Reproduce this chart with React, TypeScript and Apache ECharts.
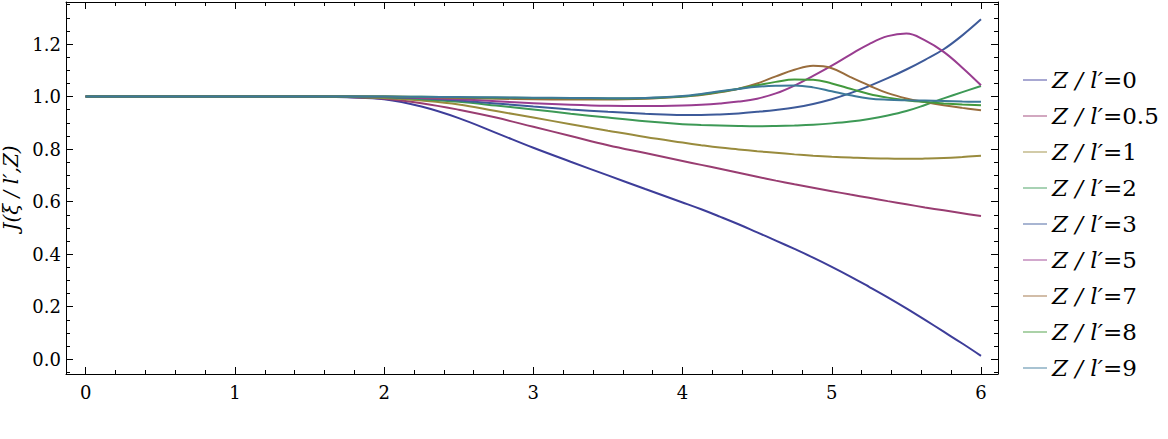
import React, { useEffect, useRef } from "react";
import * as echarts from "echarts";

// x = xi / l'
const xValues = [0, 0.5, 1, 1.5, 1.75, 2, 2.25, 2.5, 2.75, 3, 3.25, 3.5, 3.75,
  4, 4.125, 4.25, 4.375, 4.5, 4.625, 4.75, 4.875, 5, 5.125, 5.25, 5.375, 5.5, 5.625, 5.75, 5.875, 6];

const zLabels = ["0", "0.5", "1", "2", "3", "5", "7", "8", "9"];

const jZ0 = [1, 1, 1, 1, 0.997, 0.99, 0.962, 0.918, 0.862, 0.805, 0.752, 0.7, 0.648,
  0.597, 0.571, 0.543, 0.514, 0.483, 0.452, 0.42, 0.387, 0.352, 0.315, 0.276, 0.236, 0.194, 0.15, 0.105, 0.06, 0.013];
const jZ05 = [1, 1, 1, 1, 0.998, 0.992, 0.975, 0.95, 0.92, 0.885, 0.85, 0.815, 0.785,
  0.755, 0.74, 0.725, 0.71, 0.695, 0.68, 0.666, 0.653, 0.64, 0.627, 0.615, 0.602, 0.59, 0.578, 0.567, 0.556, 0.545];
const jZ1 = [1, 1, 1, 1, 0.999, 0.995, 0.985, 0.97, 0.945, 0.92, 0.895, 0.87, 0.846,
  0.825, 0.815, 0.806, 0.799, 0.792, 0.786, 0.78, 0.775, 0.771, 0.768, 0.765, 0.764, 0.763, 0.764, 0.766, 0.77, 0.775];
const jZ2 = [1, 1, 1, 1, 0.999, 0.997, 0.99, 0.98, 0.966, 0.951, 0.935, 0.92, 0.906,
  0.895, 0.892, 0.89, 0.888, 0.887, 0.888, 0.89, 0.893, 0.898, 0.905, 0.915, 0.928, 0.945, 0.968, 0.993, 1.017, 1.04];
const jZ3 = [1, 1, 1, 1, 1, 0.998, 0.994, 0.985, 0.974, 0.962, 0.951, 0.942, 0.935,
  0.93, 0.93, 0.932, 0.936, 0.942, 0.949, 0.958, 0.972, 0.99, 1.013, 1.04, 1.07, 1.103, 1.14, 1.18, 1.233, 1.294];
const jZ5 = [1, 1, 1, 1, 1, 0.999, 0.995, 0.99, 0.982, 0.975, 0.969, 0.965, 0.964,
  0.966, 0.969, 0.974, 0.981, 0.992, 1.012, 1.042, 1.079, 1.118, 1.16, 1.2, 1.23, 1.24, 1.214, 1.17, 1.11, 1.043];
const jZ7 = [1, 1, 1, 1, 1, 1, 0.998, 0.995, 0.992, 0.99, 0.989, 0.989, 0.992,
  1.0, 1.006, 1.016, 1.03, 1.05, 1.077, 1.102, 1.117, 1.108, 1.074, 1.042, 1.013, 0.993, 0.979, 0.967, 0.957, 0.948];
const jZ8 = [1, 1, 1, 1, 1, 1, 0.999, 0.997, 0.996, 0.995, 0.994, 0.993, 0.994,
  1.0, 1.008, 1.018, 1.03, 1.043, 1.056, 1.065, 1.064, 1.05, 1.03, 1.01, 0.996, 0.986, 0.979, 0.974, 0.97, 0.967];
const jZ9 = [1, 1, 1, 1, 1, 1, 0.999, 0.998, 0.997, 0.996, 0.995, 0.994, 0.995,
  1.002, 1.01, 1.02, 1.029, 1.037, 1.041, 1.042, 1.035, 1.02, 1.005, 0.993, 0.988, 0.986, 0.985, 0.983, 0.981, 0.98];

const seriesValues = [jZ0, jZ05, jZ1, jZ2, jZ3, jZ5, jZ7, jZ8, jZ9];

const colors = ["#3D3D99", "#993D71", "#998B3D", "#3D9956", "#3D5A99", "#993D90", "#996D3D", "#43993D", "#3D7999"];

const FONT = "DejaVu Serif";

export default function App() {
  const ref = useRef<HTMLDivElement | null>(null);

  useEffect(() => {
    if (!ref.current) return;
    const chart = echarts.init(ref.current, undefined, { renderer: "svg" });

    const xMin = -0.132;
    const xMax = 6.114;
    const yMin = -0.056;
    const yMax = 1.36;

    const tickCommon = {
      axisLine: { show: true, onZero: false, lineStyle: { color: "#000", width: 1 } },
      axisTick: { show: true, inside: true, length: 7, lineStyle: { color: "#000", width: 1 } },
      minorTick: { show: true, length: 4, lineStyle: { color: "#000", width: 1 } },
      splitLine: { show: false },
      minorSplitLine: { show: false },
    };

    const series = seriesValues.map((vals, i) => ({
      name: `Z / l′=${zLabels[i]}`,
      type: "line",
      xAxisIndex: 0,
      yAxisIndex: 0,
      data: xValues.map((x, k) => [x, vals[k]]),
      showSymbol: false,
      symbol: "none",
      smooth: 0.4,
      lineStyle: { width: 2, color: colors[i] },
      itemStyle: { color: colors[i] },
      emphasis: { disabled: true },
    }));

    chart.setOption({
      animation: false,
      backgroundColor: "#ffffff",
      textStyle: { fontFamily: FONT },
      grid: { left: 66, right: 170, top: 2, bottom: 65, containLabel: false, outerBoundsMode: "none" },
      legend: {
        show: true,
        orient: "vertical",
        left: 1018,
        top: 60,
        icon: "rect",
        itemWidth: 24,
        itemHeight: 1.5,
        itemGap: 6,
        itemTextGap: 8,
        itemStyle: { opacity: 0.6 },
        data: series.map((s) => s.name),
        formatter: (name: string) => {
          const val = name.split("=")[1];
          return `{i|Z / l′}{n|=${val}}`;
        },
        textStyle: {
          color: "#000",
          fontFamily: FONT,
          fontSize: 23,
          lineHeight: 30,
          rich: {
            i: { fontFamily: FONT, fontSize: 23, fontStyle: "italic", color: "#000", lineHeight: 30 },
            n: { fontFamily: FONT, fontSize: 23, color: "#000", lineHeight: 30 },
          },
        },
      },
      xAxis: [
        {
          type: "value",
          position: "bottom",
          min: xMin,
          max: xMax,
          splitNumber: 6,
          ...tickCommon,
          minorTick: { ...tickCommon.minorTick, splitNumber: 5 },
          axisLabel: {
            show: true,
            color: "#000",
            fontFamily: FONT,
            fontSize: 18,
            margin: 9,
            formatter: (v: number) => (Math.abs(v - Math.round(v)) < 1e-6 ? String(Math.round(v)) : ""),
          },
        },
        {
          type: "value",
          position: "top",
          min: xMin,
          max: xMax,
          splitNumber: 6,
          ...tickCommon,
          minorTick: { ...tickCommon.minorTick, splitNumber: 5 },
          axisLabel: { show: false },
        },
      ],
      yAxis: [
        {
          type: "value",
          position: "left",
          min: yMin,
          max: yMax,
          splitNumber: 7,
          ...tickCommon,
          minorTick: { ...tickCommon.minorTick, splitNumber: 4 },
          axisLabel: {
            show: true,
            color: "#000",
            fontFamily: FONT,
            fontSize: 18,
            margin: 5,
            formatter: (v: number) => {
              const r = Math.round(v * 10) / 10;
              return Math.abs(v - r) < 1e-6 ? r.toFixed(1) : "";
            },
          },
          name: "J(ξ / l′,Z)",
          nameLocation: "middle",
          nameGap: 34,
          nameRotate: 90,
          nameTextStyle: {
            color: "#000",
            fontFamily: FONT,
            fontSize: 20,
            fontStyle: "italic",
          },
        },
        {
          type: "value",
          position: "right",
          min: yMin,
          max: yMax,
          splitNumber: 7,
          ...tickCommon,
          minorTick: { ...tickCommon.minorTick, splitNumber: 4 },
          axisLabel: { show: false },
        },
      ],
      series,
    });

    return () => {
      chart.dispose();
    };
  }, []);

  return (
    <div
      ref={ref}
      style={{ position: "fixed", left: 0, top: 0, width: 1168, height: 439, background: "#fff" }}
    />
  );
}
